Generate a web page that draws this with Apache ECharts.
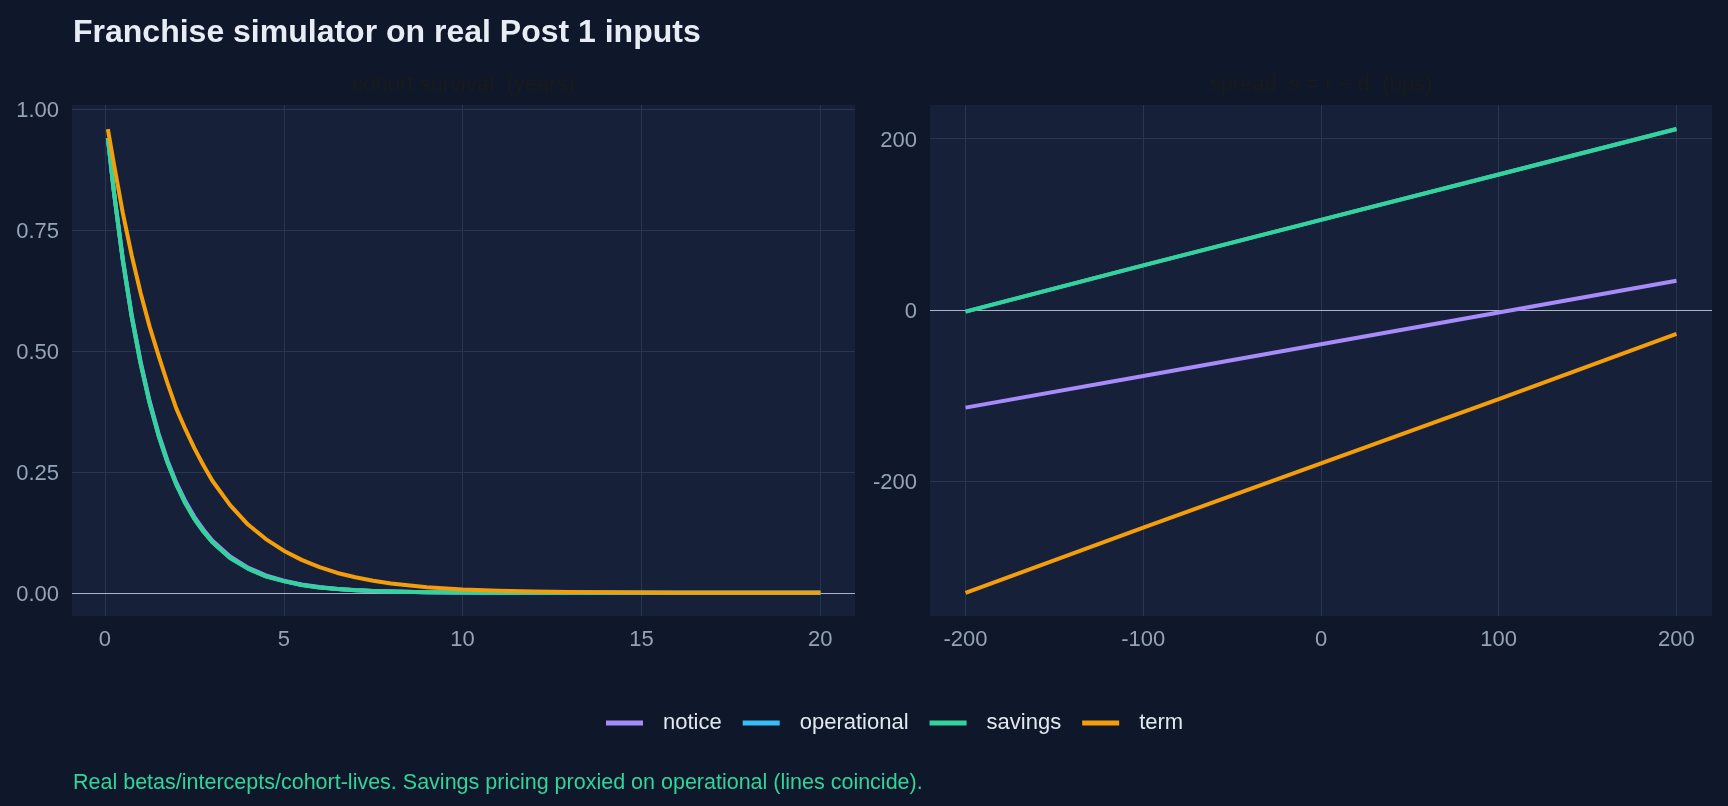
<!DOCTYPE html>
<html>
<head>
<meta charset="utf-8">
<title>Franchise simulator on real Post 1 inputs</title>
<script src="https://cdn.jsdelivr.net/npm/echarts@6/dist/echarts.min.js"></script>
<style>
  html, body { margin: 0; padding: 0; background: #0f172a; }
  #main { width: 1728px; height: 806px; }
</style>
</head>
<body>
<div id="main"></div>
<script>
// left panel: share of the cohort still on the book, by age in years
var surviveYears = [0.083, 0.25, 0.5, 0.75, 1, 1.25, 1.5, 1.75, 2, 2.25, 2.5, 2.75, 3, 3.5, 4, 4.5, 5, 5.5, 6, 6.5, 7, 7.5, 8, 9, 10, 11, 12, 13, 14, 15, 16, 17, 18, 19, 20];
var surviveNotice = [0.940, 0.830, 0.690, 0.574, 0.477, 0.396, 0.329, 0.273, 0.227, 0.189, 0.157, 0.131, 0.108, 0.075, 0.052, 0.036, 0.025, 0.017, 0.012, 0.008, 0.0055, 0.0039, 0.0027, 0.0013, 0.0006, 0.0003, 0.0001, 0, 0, 0, 0, 0, 0, 0, 0];
var surviveOperational = [0.940, 0.829, 0.687, 0.570, 0.473, 0.392, 0.325, 0.269, 0.223, 0.185, 0.153, 0.127, 0.105, 0.072, 0.050, 0.034, 0.024, 0.016, 0.011, 0.0076, 0.005, 0.0036, 0.0025, 0.0012, 0.0006, 0.0003, 0.0001, 0, 0, 0, 0, 0, 0, 0, 0];
var surviveSavings = [0.940, 0.829, 0.687, 0.570, 0.473, 0.392, 0.325, 0.269, 0.223, 0.185, 0.153, 0.127, 0.105, 0.072, 0.050, 0.034, 0.024, 0.016, 0.011, 0.0076, 0.005, 0.0036, 0.0025, 0.0012, 0.0006, 0.0003, 0.0001, 0, 0, 0, 0, 0, 0, 0, 0];
var surviveTerm = [0.958, 0.887, 0.785, 0.697, 0.619, 0.550, 0.490, 0.433, 0.380, 0.338, 0.299, 0.264, 0.232, 0.181, 0.141, 0.111, 0.087, 0.068, 0.053, 0.041, 0.032, 0.025, 0.019, 0.0115, 0.007, 0.0042, 0.0025, 0.0015, 0.0009, 0.0005, 0.0003, 0.0002, 0.0001, 0.0001, 0];

// right panel: spread s = r - d in bps
var spreadBps = [-200, -100, 0, 100, 200];
var spreadNotice = [-114, -77, -40, -3, 34];
var spreadOperational = [-2, 52, 105, 158, 211];
var spreadSavings = [-2, 52, 105, 158, 211];
var spreadTerm = [-330, -254, -179, -104, -28];

var seriesNames = ['notice', 'operational', 'savings', 'term'];
var seriesColors = ['#a78bfa', '#38bdf8', '#34d399', '#f59e0b'];

var yearTicks = [0, 5, 10, 15, 20];
var surviveTicks = [0, 0.25, 0.5, 0.75, 1];
var spreadXTicks = [-200, -100, 0, 100, 200];
var spreadYTicks = [-200, 0, 200];

var FONT = '"Liberation Sans", Arial, sans-serif';
var PAGE_BG = '#0f172a';
var PANEL_BG = '#162039';
var GRID_COL = '#2a3650';
var TICK_COL = '#94a3b8';

function pairs(xs, ys) {
    return xs.map(function (x, i) { return [x, ys[i]]; });
}

function valueAxis(idx, min, max, ticks, fmt, isY) {
    var label = {
        customValues: ticks,
        color: TICK_COL,
        fontSize: 22,
        fontFamily: FONT,
        margin: 13,
        formatter: fmt
    };
    if (isY) {
        // nudge y labels a touch below their gridline, like the original
        label.verticalAlign = 'top';
        label.lineHeight = 4;
    }
    return {
        type: 'value',
        gridIndex: idx,
        min: min,
        max: max,
        axisLine: { show: false },
        axisTick: { show: false, customValues: ticks },
        axisLabel: label,
        splitLine: { show: true, lineStyle: { color: GRID_COL, width: 1 } }
    };
}

function zeroLine(idx) {
    return {
        type: 'line',
        xAxisIndex: idx,
        yAxisIndex: idx,
        data: [],
        silent: true,
        markLine: {
            silent: true,
            z: 1,
            symbol: 'none',
            label: { show: false },
            lineStyle: { color: '#aab4c8', width: 1, type: 'solid' },
            data: [{ yAxis: 0 }]
        }
    };
}

var leftData = [surviveNotice, surviveOperational, surviveSavings, surviveTerm];
var rightData = [spreadNotice, spreadOperational, spreadSavings, spreadTerm];

var series = [zeroLine(0), zeroLine(1)];
seriesNames.forEach(function (name, i) {
    series.push({
        name: name,
        type: 'line',
        xAxisIndex: 0,
        yAxisIndex: 0,
        showSymbol: false,
        symbol: 'none',
        color: seriesColors[i],
        lineStyle: { width: 4, color: seriesColors[i], join: 'round' },
        data: pairs(surviveYears, leftData[i]),
        z: 2 + i
    });
    series.push({
        name: name,
        type: 'line',
        xAxisIndex: 1,
        yAxisIndex: 1,
        showSymbol: false,
        symbol: 'none',
        color: seriesColors[i],
        lineStyle: { width: 4, color: seriesColors[i] },
        data: pairs(spreadBps, rightData[i]),
        z: 2 + i
    });
});

var myChart = echarts.init(document.getElementById('main'), null, { renderer: 'canvas' });
myChart.setOption({
    backgroundColor: PAGE_BG,
    animation: false,
    textStyle: { fontFamily: FONT },
    graphic: [
        { type: 'text', x: 73, y: 33, style: { text: 'Franchise simulator on real Post 1 inputs', fill: '#e8edf5', font: 'bold 32px ' + FONT, align: 'left', verticalAlign: 'middle' } },
        { type: 'text', x: 463.5, y: 84.5, style: { text: 'cohort survival  (years)', fill: '#1a1a1a', font: '22px ' + FONT, align: 'center', verticalAlign: 'middle' } },
        { type: 'text', x: 1321, y: 84.5, style: { text: 'spread  s = r \u2212 d  (bps)', fill: '#1a1a1a', font: '22px ' + FONT, align: 'center', verticalAlign: 'middle' } },
        { type: 'text', x: 73, y: 783.5, style: { text: 'Real betas/intercepts/cohort-lives. Savings pricing proxied on operational (lines coincide).', fill: '#34d399', font: '21.5px ' + FONT, align: 'left', verticalAlign: 'middle' } }
    ],
    legend: {
        data: seriesNames,
        left: 606,
        top: 712,
        padding: 0,
        icon: 'rect',
        itemWidth: 37,
        itemHeight: 5,
        itemGap: 21,
        selectedMode: false,
        textStyle: { color: '#e2e8f0', fontSize: 22, fontFamily: FONT, padding: [0, 0, 0, 15] }
    },
    grid: [
        { left: 72, top: 105, width: 783, height: 511, show: true, backgroundColor: PANEL_BG, borderWidth: 0, containLabel: false, outerBoundsMode: 'none' },
        { left: 930, top: 105, width: 782, height: 511, show: true, backgroundColor: PANEL_BG, borderWidth: 0, containLabel: false, outerBoundsMode: 'none' }
    ],
    xAxis: [
        valueAxis(0, -0.92, 20.97, yearTicks, function (v) { return String(v); }, false),
        valueAxis(1, -220, 220, spreadXTicks, function (v) { return String(v); }, false)
    ],
    yAxis: [
        valueAxis(0, -0.048, 1.008, surviveTicks, function (v) { return v.toFixed(2); }, true),
        valueAxis(1, -357, 239, spreadYTicks, function (v) { return String(v); }, true)
    ],
    series: series
});
</script>
</body>
</html>
